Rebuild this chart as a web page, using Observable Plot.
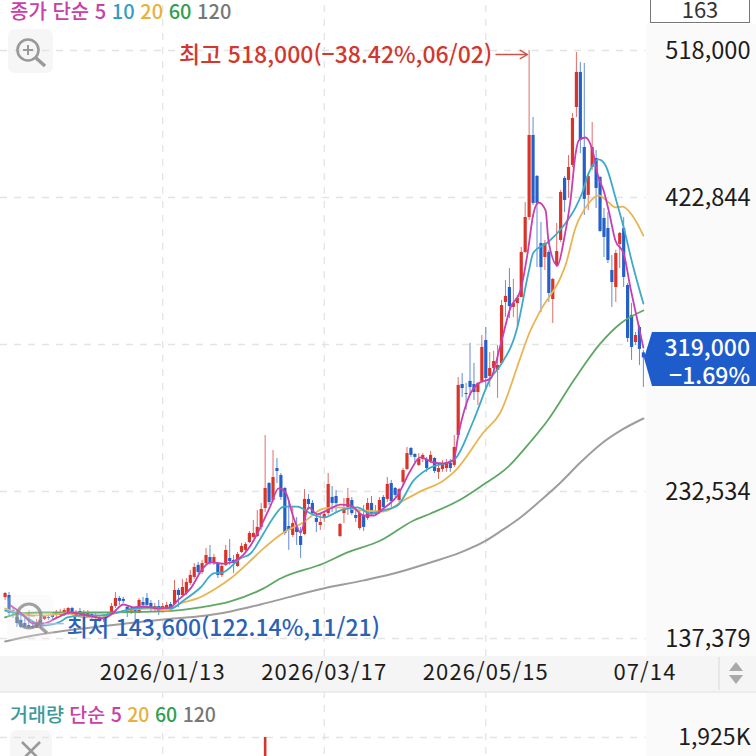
<!doctype html>
<html lang="ko"><head><meta charset="utf-8">
<script src="https://cdn.jsdelivr.net/npm/d3@7"></script>
<script src="https://cdn.jsdelivr.net/npm/@observablehq/plot@0.6"></script>
<style>
html,body{margin:0;padding:0;background:#fff}
#page{position:relative;width:756px;height:756px;overflow:hidden;font-family:"Noto Sans CJK KR","Noto Sans",sans-serif;background:#fff}
#page>*{position:absolute}
#page svg{overflow:hidden}
.legend{white-space:pre;font-weight:500}
g[aria-label="x-axis tick label"]{letter-spacing:1.1px}
</style></head><body><div id="page">
<div style="left:646px;top:24px;width:110px;height:632px;background:#fafafa"></div>
<div style="left:646px;top:692px;width:110px;height:64px;background:#fafafa"></div>
<div style="left:0;top:656px;width:756px;height:35px;background:#f5f5f5;border-bottom:2px solid #ececec"></div>
<div style="left:8px;top:29px;width:45px;height:44px;border-radius:7px;background:#f6f6f6"></div>
<div style="left:10px;top:730px;width:42px;height:26px;border-radius:7px 7px 0 0;background:#f6f6f6"></div>
<div id="main" style="left:0;top:0"></div>
<div id="vol" style="left:0;top:692px"></div>

<div class="legend" style="left:10px;top:0;font-size:20px;line-height:21px"><span style="color:#c940a8">종가 단순 5</span> <span style="color:#2f9dc6">10</span> <span style="color:#e8b03c">20</span> <span style="color:#2f9e4f">60</span> <span style="color:#777">120</span></div>
<div class="legend" style="left:10px;top:701px;font-size:19.5px;line-height:26px"><span style="color:#3c9a9c">거래량</span> <span style="color:#c940a8">단순 5</span> <span style="color:#e8b03c">20</span> <span style="color:#2f9e4f">60</span> <span style="color:#777">120</span></div>

<div style="left:650px;top:-3px;width:98px;height:24px;border:1.5px solid #777;background:#fff;text-align:center;font-size:22px;line-height:24px;color:#333;overflow:hidden"><span style="position:relative;top:-2px">163</span></div>

<div style="left:644px;top:332px;width:112px;height:54px;background:#1f5ccb;clip-path:polygon(8px 0,100% 0,100% 100%,8px 100%,0 26px)"></div>
<div style="left:650px;top:332px;width:100px;text-align:right;color:#fff;font-size:23px;line-height:28px;font-weight:500">319,000<br>−1.69%</div>

<svg style="left:0;top:0" width="756" height="756" fill="none">
  <g stroke="#999" stroke-width="2.6">
    <circle cx="28" cy="50" r="10.5"/><path d="M36 58l9 8" stroke-width="3.4"/>
    <path d="M23 50h10M28 45v10" stroke-width="2"/>
  </g>
  <rect x="7" y="595" width="46" height="46" rx="7" fill="#eee" fill-opacity=".25"/>
  <g stroke="#8a8a8a" stroke-opacity=".8">
    <circle cx="29" cy="616" r="12" stroke-width="3.2"/><path d="M38 625l9 8" stroke-width="3.4"/>
    <path d="M23 616h12M29 610v12" stroke-width="1.6" stroke-opacity=".35"/>
  </g>
  <g fill="#a9a9a9"><path d="M736 662l7 9h-14zM736 684l7-9h-14z"/></g>
  <path d="M719 657v33" stroke="#e2e2e2" stroke-width="1.5"/>
  <path d="M22 742l18 18M40 742l-18 18" stroke="#999" stroke-width="2.6"/>
</svg>
</div>
<script>
const opensK=[163.9,165.2,155.5,151.0,149.1,147.1,145.8,145.2,143.9,149.1,
149.7,151.0,152.3,152.3,152.3,153.6,153.6,156.8,152.3,154.9,
152.3,151.0,152.9,150.4,149.7,151.0,151.0,153.6,158.1,163.3,
162.7,157.5,154.2,156.2,153.6,160.7,163.3,160.1,156.2,158.1,
156.2,156.8,159.4,159.4,168.5,165.2,166.5,173.0,176.9,184.7,
180.1,185.9,189.8,185.9,185.9,178.2,184.7,189.2,187.9,184.0,
193.1,194.4,199.5,202.8,203.4,209.3,221.5,237.7,226.7,247.4,
242.9,234.5,209.9,204.1,209.3,203.4,204.7,227.4,224.8,215.1,
210.5,215.1,218.3,228.7,229.3,203.4,218.3,222.2,226.7,217.0,
208.6,217.0,215.1,224.8,217.7,219.0,228.7,227.4,237.7,234.5,
226.7,238.4,246.8,260.4,256.5,249.4,253.3,253.3,252.0,253.9,
244.9,246.8,247.4,250.7,249.4,268.8,301.8,296.0,303.8,301.8,
296.6,303.8,330.3,307.0,312.2,310.9,315.4,354.9,364.6,351.7,
354.2,358.1,387.3,409.9,463.0,436.5,393.1,384.0,387.3,356.8,
378.8,395.0,435.2,433.9,443.6,481.1,503.8,455.2,424.2,442.3,
448.1,435.8,409.3,402.8,375.6,364.6,392.4,402.8,365.9,346.5,
329.0,338.7,322.3];
const closesK=[166.5,153.6,154.2,147.1,144.5,144.5,143.9,143.9,147.1,145.8,
151.6,150.4,151.0,154.2,154.2,155.5,156.8,154.2,154.2,152.9,
154.2,153.6,151.0,151.6,151.0,150.4,152.9,158.1,163.3,161.4,
161.4,154.2,156.2,154.2,162.0,158.8,158.8,156.8,158.1,154.9,
158.1,158.8,157.5,168.5,165.2,170.4,173.6,178.2,183.4,180.1,
185.9,191.1,185.9,189.8,178.2,184.0,194.4,187.2,185.9,191.8,
197.0,198.2,205.4,205.4,209.3,220.9,234.5,225.4,241.6,245.5,
228.7,205.4,207.3,211.8,206.0,197.6,227.4,224.1,218.3,212.5,
212.5,217.7,237.1,224.8,224.8,211.2,222.2,228.0,218.3,215.1,
218.3,209.3,224.8,217.7,219.6,226.7,222.2,237.1,226.1,230.0,
233.8,246.1,257.1,255.9,254.6,253.3,255.9,247.4,255.9,245.5,
247.4,250.0,250.7,247.4,261.0,301.2,299.2,295.3,299.9,296.6,
302.5,325.8,305.7,312.2,316.7,314.1,352.9,358.8,352.3,354.2,
357.5,387.3,409.9,463.0,419.0,419.0,377.5,393.1,360.7,369.8,
387.9,426.1,420.9,442.3,474.0,503.8,459.8,421.6,436.5,455.2,
428.7,400.9,397.0,382.1,367.8,386.6,399.6,371.1,331.6,325.8,
333.5,324.5,319.0];
const highsK=[167.2,167.2,156.8,153.6,152.3,150.4,149.1,147.8,149.7,151.6,
152.3,152.3,153.6,155.5,156.2,156.8,157.5,157.5,155.5,156.8,
155.5,155.5,153.6,153.6,152.3,152.3,153.6,160.1,167.2,164.6,
164.0,158.8,157.5,157.5,163.3,164.0,166.5,162.0,160.1,162.0,
160.1,160.7,160.7,175.0,169.8,175.6,176.2,181.4,185.9,186.6,
187.9,195.7,197.6,191.8,186.6,185.9,197.6,201.5,191.1,193.1,
198.9,199.5,206.7,213.8,220.3,224.8,268.8,238.4,259.1,253.9,
244.2,235.1,226.7,222.8,215.7,209.3,233.8,230.6,226.7,218.3,
218.3,219.0,244.2,235.8,233.2,211.8,228.0,234.5,228.7,220.3,
220.3,223.5,228.0,229.3,223.5,228.7,230.0,241.6,239.7,235.1,
234.5,247.4,261.0,261.0,257.1,257.1,257.1,254.6,258.4,254.6,
250.7,252.6,253.3,253.3,268.8,306.3,308.9,302.5,328.4,315.4,
303.1,333.5,338.7,322.5,323.2,327.1,356.2,369.1,376.9,369.8,
359.4,390.5,419.6,518.0,474.6,437.1,406.7,395.0,388.6,370.4,
406.0,427.4,436.5,450.0,477.2,516.7,510.2,509.6,438.4,471.4,
453.3,436.5,415.7,413.1,385.3,388.6,400.2,409.9,367.2,354.2,
335.5,340.0,323.8];
const lowsK=[162.0,151.6,150.4,144.5,143.9,143.6,143.7,143.7,143.8,143.9,
149.1,149.1,149.1,151.0,151.0,151.6,152.3,153.6,151.0,151.0,
151.0,150.4,149.1,149.1,147.8,147.8,150.4,152.3,156.8,158.8,
160.1,151.0,152.9,148.4,153.6,157.5,157.5,154.2,154.2,152.3,
154.9,154.2,156.8,158.8,157.5,163.9,165.2,171.7,175.6,178.8,
178.8,184.7,184.7,184.7,176.2,176.9,184.0,184.7,179.5,183.4,
192.4,193.1,198.9,202.1,202.8,207.3,219.0,223.5,225.4,237.7,
226.7,204.1,194.4,202.8,197.6,189.2,204.1,220.3,217.0,206.0,
207.3,212.5,217.0,219.0,219.0,202.8,211.8,217.0,217.0,212.5,
207.3,206.7,213.8,217.0,217.0,217.7,220.3,225.4,222.2,228.7,
225.4,236.4,246.1,254.6,251.3,248.7,251.3,244.9,250.7,244.2,
240.3,244.9,244.9,244.9,248.1,268.2,293.4,285.0,294.7,291.5,
288.2,303.1,299.2,299.9,310.9,292.8,314.1,345.2,344.5,345.2,
339.4,358.1,386.6,408.0,417.7,377.5,348.4,375.6,354.9,341.3,
377.5,393.7,413.1,422.2,442.3,474.6,451.3,411.2,414.4,440.3,
415.7,400.2,384.0,380.1,351.7,354.9,376.9,364.6,329.0,317.4,
327.1,314.1,299.9];

const ma5Idx=[1.4,3.9,7.2,9.7,13.3,16.6,20.9,25,27.5,30,32.6,35.1,38.7,42,43.8,47.1,50.4,52.1,55.4,59.7,62.3,64.8,67.4,69.4,71.2,73.2,75,77,79.3,80.6,82.6,85.1,87.7,91,93.5,96,99.6,102.9,105.4,108.7,111.3,113.8,115.1,118.1,120.2,123.2,125.7,128.3,130.8,132.6,134.1,135.4,137.2,137.9,140.2,141.8,143.5,144.8,145.6,147.3,149.1,150.6,151.9,153.2,154.9,157,158.7,160.5,162];
const ma5K=[158.8,154.2,147.1,147.1,151.0,154.2,152.3,150.4,154.2,159.4,157.5,158.1,156.8,157.5,162.0,169.8,183.4,186.6,185.9,189.8,197.6,209.3,223.5,234.5,231.9,215.7,206.0,222.2,217.7,219.0,221.5,224.1,223.5,217.0,217.0,221.5,230.0,246.1,254.6,251.3,250.7,252.6,270.1,296.0,302.5,305.7,327.1,351.7,362.7,386.6,412.5,419.6,414.4,395.0,378.8,395.0,420.9,451.3,459.8,461.7,453.3,435.8,427.4,414.4,395.0,386.6,364.6,343.2,325.7];
const ma10Idx=[0,3.9,9.7,14.1,15.8,19.9,24.2,28.5,32.6,38.7,42,45.3,49.6,52.9,55.2,59.7,62.3,65.6,68.1,70.7,74.2,77.5,80.8,85.1,89.4,92.7,96,99.6,103.7,108,112.3,114.3,118.9,123.2,125.7,130,132.8,134.1,137.7,141.8,144.8,146.5,148.1,150.6,152.4,154.9,157,159.2,162];
const ma10K=[155.5,152.9,145.8,148.4,151.0,152.3,152.3,154.2,156.8,157.5,156.8,162.0,170.4,179.5,180.1,189.2,192.4,205.4,215.7,222.8,222.8,218.3,215.7,220.3,222.2,218.3,220.3,223.5,239.7,248.1,251.3,253.9,278.5,305.7,314.1,338.7,373.7,387.3,393.7,404.7,416.4,426.1,438.4,447.5,443.6,422.9,403.4,380.1,354.2];
const ma20Idx=[0,3.9,7.2,9.7,15.8,19.9,24.2,28.5,32.6,36.9,41.2,44.5,48.8,53.9,57.2,61.5,65.6,70.7,75.7,80.8,84.4,91,96,101.1,105.4,111.3,114.3,121.4,125.7,130.8,132.8,135.9,141,142.2,144.8,148.1,150.6,153.2,154.9,156.7,159.2,162];
const ma20K=[156.8,153.6,152.3,152.3,153.6,151.0,151.0,154.2,156.2,156.8,155.5,160.1,163.3,170.4,176.2,185.9,195.7,206.0,212.5,221.5,222.2,220.3,219.6,226.7,232.6,239.7,246.1,270.7,283.7,319.3,333.5,349.7,371.1,378.8,403.4,419.0,424.2,419.6,416.4,417.0,411.2,398.2];
const ma60Idx=[0,3.9,9.7,24.2,40.2,49.6,57.2,65.6,69.9,80.8,86.9,95.3,103.7,108,115.6,120.7,127.5,133.4,137.7,144.3,151.1,156.2,162];
const ma60K=[151.0,153.6,154.2,154.2,154.9,157.5,161.4,169.8,176.2,185.9,193.1,200.8,213.8,218.3,227.4,235.8,248.1,264.9,278.5,304.4,328.4,341.3,349.7];
const ma120Idx=[0,7.2,15.8,24.2,31.8,40.2,48.8,57.2,64.8,80.8,91,99.6,108,115.6,121.7,125.7,130.8,135.9,141,146,151.1,156.7,162];
const ma120K=[135.5,139.3,142.6,145.2,147.4,149.7,151.6,154.9,159.4,169.8,175.0,180.1,186.6,193.1,200.2,206.7,215.7,226.7,238.4,251.3,263.0,272.7,279.8];

const priceTicks=[518000,422844,232534,137379];
const priceGrid=[518000,422844,327689,232534,137379];
const dateIdx=[40,81,122,162.4];
const dateLabels=["2026/01/13","2026/03/17","2026/05/15","07/14"];
const volumeIdx=[66];
const volumeK=[1925];

const UP="#d8342a",DOWN="#2460c8";
const K=v=>v*1000;
const candles=opensK.map((o,i)=>({i,open:K(o),close:K(closesK[i]),high:K(highsK[i]),low:K(lowsK[i]),up:closesK[i]>=o}));
const pts=(xs,ys)=>xs.map((i,n)=>({i,p:K(ys[n])}));
const font='"Noto Sans CJK KR","Noto Sans",sans-serif';
const xScale={type:"linear",domain:[-1.1675,190.71],range:[0,756]};
const dateTick=new Map(dateIdx.map((d,n)=>[d,dateLabels[n]]));
const dash="7 7",gridC="#e4e4e4";
const line=(xs,ys,stroke,sw=1.8)=>Plot.line(pts(xs,ys),{x:"i",y:"p",stroke,strokeWidth:sw,curve:"monotone-x"});

const main=Plot.plot({
  width:756,height:692,marginTop:0,marginBottom:26,marginLeft:0,marginRight:6,
  style:{background:"transparent",fontFamily:font,overflow:"hidden"},
  x:{...xScale,label:null},
  y:{type:"linear",domain:[137379,518000],range:[638,50],label:null},
  marks:[
    Plot.ruleY(priceGrid,{x1:-1.1675,x2:162.6,stroke:gridC,strokeDasharray:dash,strokeWidth:1.3}),
    Plot.ruleX(dateIdx.slice(0,3),{y1:125700,y2:551000,stroke:gridC,strokeDasharray:dash,strokeWidth:1.3}),
    Plot.ruleX(candles,{x:"i",y1:"low",y2:"high",stroke:d=>d.up?UP:DOWN,strokeWidth:1,strokeOpacity:.72}),
    Plot.ruleX(candles,{x:"i",y1:"open",y2:"close",stroke:d=>d.up?UP:DOWN,strokeWidth:3.2}),
    line(ma120Idx,ma120K,"#a09c9c",2),
    line(ma60Idx,ma60K,"#5ea866",1.8),
    line(ma20Idx,ma20K,"#e9b552"),
    line(ma10Idx,ma10K,"#3fa9c9"),
    line(ma5Idx,ma5K,"#c93fb0"),
    Plot.ruleY([147000],{x1:10,x2:15,stroke:"#a9bcd6",strokeWidth:1.5}),
    Plot.arrow([{a:124.6,b:132.6,p:515400}],{x1:"a",x2:"b",y1:"p",y2:"p",stroke:"#c9544a",strokeWidth:1.4,headLength:9,bend:0}),
    Plot.text(["최고 518,000(−38.42%,06/02)"],{x:133,y:518000,dx:-37,dy:5,text:d=>d,textAnchor:"end",fill:"#d1382e",fontSize:23,fontWeight:500}),
    Plot.text(["최저 143,600(122.14%,11/21)"],{x:5,y:143600,dx:42,dy:0,text:d=>d,textAnchor:"start",fill:"#2a62b6",fontSize:23,fontWeight:500}),
    Plot.axisY({anchor:"right",ticks:priceTicks,tickSize:0,tickPadding:0,label:null,fontSize:23.6,fill:"#1c1c1c",textAnchor:"end",dy:1,tickFormat:d3.format(",")}),
    Plot.axisX({anchor:"bottom",ticks:dateIdx,tickSize:0,tickPadding:-2,label:null,fontSize:22,fill:"#1c1c1c",tickFormat:d=>dateTick.get(d)})
  ]
});
document.getElementById("main").appendChild(main);

const vol=Plot.plot({
  width:756,height:64,marginTop:0,marginBottom:0,marginLeft:0,marginRight:6,
  style:{background:"transparent",fontFamily:font,overflow:"hidden"},
  x:{...xScale,label:null,axis:null},
  y:{type:"linear",domain:[0,1925],range:[300,45],label:null},
  marks:[
    Plot.ruleY([1925],{x1:-1.1675,x2:162.6,stroke:gridC,strokeDasharray:dash,strokeWidth:1.3}),
    Plot.ruleX(dateIdx.slice(0,3),{y1:0,y2:2400,stroke:gridC,strokeDasharray:dash,strokeWidth:1.3}),
    Plot.ruleX(volumeIdx.map((i,n)=>({i,v:volumeK[n]})),{x:"i",y1:0,y2:"v",stroke:UP,strokeWidth:2.6}),
    Plot.axisY({anchor:"right",ticks:[1925],tickSize:0,tickPadding:0,label:null,fontSize:23,fill:"#1c1c1c",textAnchor:"end",tickFormat:d=>d3.format(",")(d)+"K"})
  ]
});
document.getElementById("vol").appendChild(vol);
</script></body></html>
